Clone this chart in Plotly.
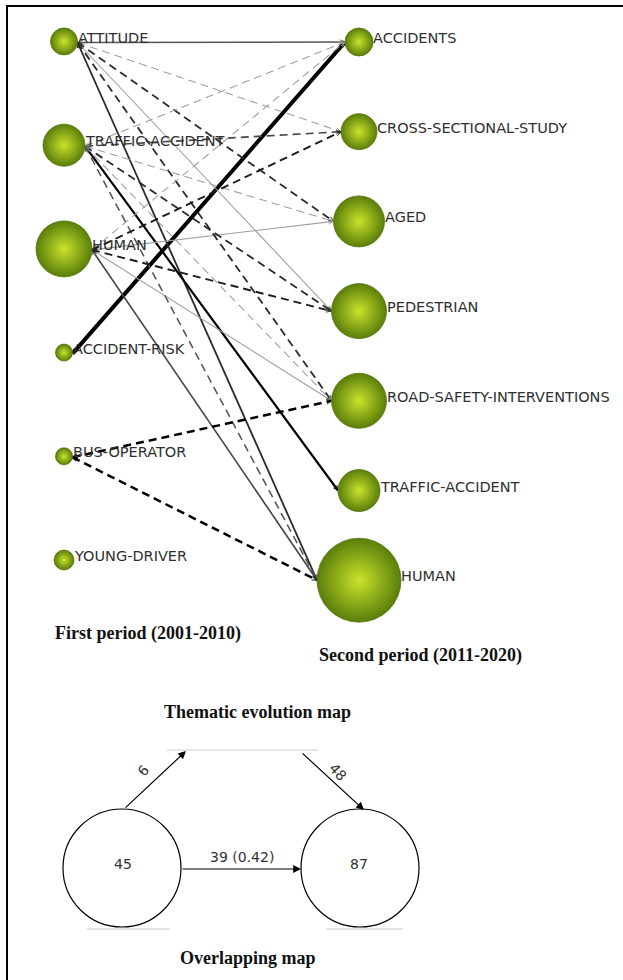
import math
import plotly.graph_objects as go

# ---- Thematic evolution: themes of each period and their relative size ----
first_period_themes = ["ATTITUDE", "TRAFFIC-ACCIDENT", "HUMAN", "ACCIDENT-RISK",
                       "BUS-OPERATOR", "YOUNG-DRIVER"]
first_period_size = [27, 42, 56, 17, 17, 20]

second_period_themes = ["ACCIDENTS", "CROSS-SECTIONAL-STUDY", "AGED", "PEDESTRIAN",
                        "ROAD-SAFETY-INTERVENTIONS", "TRAFFIC-ACCIDENT", "HUMAN"]
second_period_size = [28, 36, 51, 55, 55, 42, 84]

# ---- Links between themes (first period -> second period) ----
edge_from = ["ATTITUDE", "ACCIDENT-RISK", "ATTITUDE", "ATTITUDE", "TRAFFIC-ACCIDENT",
             "HUMAN", "HUMAN", "HUMAN",
             "ATTITUDE", "ATTITUDE", "ATTITUDE",
             "TRAFFIC-ACCIDENT", "TRAFFIC-ACCIDENT", "TRAFFIC-ACCIDENT", "TRAFFIC-ACCIDENT",
             "TRAFFIC-ACCIDENT", "TRAFFIC-ACCIDENT",
             "HUMAN", "HUMAN", "HUMAN",
             "BUS-OPERATOR", "BUS-OPERATOR"]
edge_to = ["ACCIDENTS", "ACCIDENTS", "PEDESTRIAN", "HUMAN", "TRAFFIC-ACCIDENT",
           "AGED", "ROAD-SAFETY-INTERVENTIONS", "HUMAN",
           "CROSS-SECTIONAL-STUDY", "AGED", "ROAD-SAFETY-INTERVENTIONS",
           "ACCIDENTS", "CROSS-SECTIONAL-STUDY", "AGED", "PEDESTRIAN",
           "ROAD-SAFETY-INTERVENTIONS", "HUMAN",
           "ACCIDENTS", "CROSS-SECTIONAL-STUDY", "PEDESTRIAN",
           "ROAD-SAFETY-INTERVENTIONS", "HUMAN"]
# solid link = themes share the theme name, dashed = share other keywords
edge_shares_name = [True, True, True, True, True,
                    True, True, True,
                    False, False, False,
                    False, False, False, False,
                    False, False,
                    False, False, False,
                    False, False]
edge_inclusion = [0.22, 0.95, 0.08, 0.30, 0.40,
                  0.08, 0.08, 0.25,
                  0.08, 0.30, 0.30,
                  0.08, 0.25, 0.08, 0.30,
                  0.08, 0.22,
                  0.08, 0.33, 0.33,
                  0.50, 0.50]

# ---- Overlapping map counts ----
first_period_keywords = 45
second_period_keywords = 87
shared_keywords = 39
similarity_index = 0.42
dropped_keywords = 6
new_keywords = 48

# ---------------------------------------------------------------------------
W, H = 623, 980
LEFT_X, RIGHT_X = 64, 359
LEFT_Y0, LEFT_STEP = 41.5, 103.7
RIGHT_Y0, RIGHT_STEP = 42.0, 89.7

LABEL_FONT = dict(family="DejaVu Sans", size=14.5, color="#2f2f2f")
TITLE_FONT = dict(family="Liberation Serif", size=18, color="#111111")
NUM_FONT = dict(family="DejaVu Sans", size=14, color="#333333")

left_pos = {t: (LEFT_X, LEFT_Y0 + i * LEFT_STEP) for i, t in enumerate(first_period_themes)}
left_r = {t: s / 2 for t, s in zip(first_period_themes, first_period_size)}
right_pos = {t: (RIGHT_X, RIGHT_Y0 + i * RIGHT_STEP) for i, t in enumerate(second_period_themes)}
right_r = {t: s / 2 for t, s in zip(second_period_themes, second_period_size)}


def edge_style(inclusion):
    width = 0.8 + 3.4 * inclusion
    g = int(max(0, min(200, 200 - 520 * inclusion)))
    return width, f"rgb({g},{g},{g})"


def chevron(tip, direction, length=5.5, spread=math.radians(24)):
    dx, dy = direction
    xs, ys = [], []
    for s in (spread, -spread):
        c, si = math.cos(s), math.sin(s)
        wx = dx * c - dy * si
        wy = dx * si + dy * c
        xs += [tip[0] + length * wx, tip[0], None]
        ys += [tip[1] + length * wy, tip[1], None]
    return xs, ys


fig = go.Figure()

# links
for src, dst, solid, incl in zip(edge_from, edge_to, edge_shares_name, edge_inclusion):
    x0 = left_pos[src][0] + left_r[src]
    y0 = left_pos[src][1] + 1
    x1 = right_pos[dst][0] - right_r[dst]
    y1 = right_pos[dst][1]
    width, color = edge_style(incl)
    fig.add_trace(go.Scatter(
        x=[x0, x1], y=[y0, y1], mode="lines",
        line=dict(color=color, width=width, dash="solid" if solid else "8px,5px"),
        hoverinfo="skip", showlegend=False))
    L = math.hypot(x1 - x0, y1 - y0)
    ux, uy = (x1 - x0) / L, (y1 - y0) / L
    ax, ay = chevron((x0, y0), (ux, uy))
    bx, by = chevron((x1, y1), (-ux, -uy))
    fig.add_trace(go.Scatter(
        x=ax + bx, y=ay + by, mode="lines",
        line=dict(color=color, width=min(width, 0.9)),
        hoverinfo="skip", showlegend=False))

# theme bubbles
for themes, pos, sizes in ((first_period_themes, left_pos, first_period_size),
                           (second_period_themes, right_pos, second_period_size)):
    fig.add_trace(go.Scatter(
        x=[pos[t][0] for t in themes], y=[pos[t][1] for t in themes],
        mode="markers",
        marker=dict(size=sizes, color="#5a7e0a", opacity=1,
                    gradient=dict(type="radial", color="#cbe32c"),
                    line=dict(width=0.8, color="#56750e")),
        hoverinfo="skip", showlegend=False))

annotations = []
for t in first_period_themes:
    annotations.append(dict(x=left_pos[t][0] + left_r[t], y=left_pos[t][1] - 4,
                            text=t, showarrow=False, xanchor="left", yanchor="middle",
                            xshift=-2, font=LABEL_FONT))
for t in second_period_themes:
    annotations.append(dict(x=right_pos[t][0] + right_r[t], y=right_pos[t][1] - 4,
                            text=t, showarrow=False, xanchor="left", yanchor="middle",
                            xshift=-2, font=LABEL_FONT))

annotations += [
    dict(x=148, y=633, text="<b>First period (2001-2010)</b>", showarrow=False, font=TITLE_FONT),
    dict(x=420, y=655, text="<b>Second period (2011-2020)</b>", showarrow=False, font=TITLE_FONT),
    dict(x=257, y=712, text="<b>Thematic evolution map</b>", showarrow=False, font=TITLE_FONT),
    dict(x=248, y=958, text="<b>Overlapping map</b>", showarrow=False, font=TITLE_FONT),
]

# overlapping map
C1, C2, R = (122, 868), (360, 868), 59
shapes = [
    dict(type="line", x0=7, y0=5, x1=7, y1=H, line=dict(color="black", width=2)),
    dict(type="line", x0=6, y0=6, x1=W, y1=6, line=dict(color="black", width=2)),
    dict(type="circle", x0=C1[0] - R, x1=C1[0] + R, y0=C1[1] - R, y1=C1[1] + R,
         line=dict(color="black", width=1.2)),
    dict(type="circle", x0=C2[0] - R, x1=C2[0] + R, y0=C2[1] - R, y1=C2[1] + R,
         line=dict(color="black", width=1.2)),
    dict(type="line", x0=167, x1=318, y0=750, y1=750, line=dict(color="#e6e6e6", width=2)),
    dict(type="line", x0=87, x1=170, y0=929, y1=929, line=dict(color="#e6e6e6", width=2)),
    dict(type="line", x0=326, x1=403, y0=929, y1=929, line=dict(color="#e6e6e6", width=2)),
]

arrow = dict(showarrow=True, text="", axref="x", ayref="y", arrowhead=2, arrowsize=1.3,
             arrowwidth=1.2, arrowcolor="black", standoff=0, startstandoff=0)
annotations += [
    dict(arrow, x=186, y=751, ax=C1[0] + 2, ay=C1[1] - R),
    dict(arrow, x=364, y=810, ax=301, ay=752),
    dict(arrow, x=C2[0] - R, y=C2[1] + 1, ax=C1[0] + R, ay=C1[1] + 1),
    dict(x=C1[0] + 1, y=864, text=str(first_period_keywords), showarrow=False, font=NUM_FONT),
    dict(x=C2[0] - 1, y=864, text=str(second_period_keywords), showarrow=False, font=NUM_FONT),
    dict(x=242, y=857, text=f"{shared_keywords} ({similarity_index:.2f})", showarrow=False,
         font=NUM_FONT),
    dict(x=143, y=771, text=str(dropped_keywords), showarrow=False, textangle=-48, font=NUM_FONT),
    dict(x=338, y=772, text=str(new_keywords), showarrow=False, textangle=48, font=NUM_FONT),
]

fig.update_layout(
    width=W, height=H, margin=dict(l=0, r=0, t=0, b=0),
    paper_bgcolor="white", plot_bgcolor="white",
    xaxis=dict(range=[0, W], visible=False, fixedrange=True),
    yaxis=dict(range=[H, 0], visible=False, fixedrange=True),
    shapes=shapes, annotations=annotations,
)

fig.write_html("out.html")
